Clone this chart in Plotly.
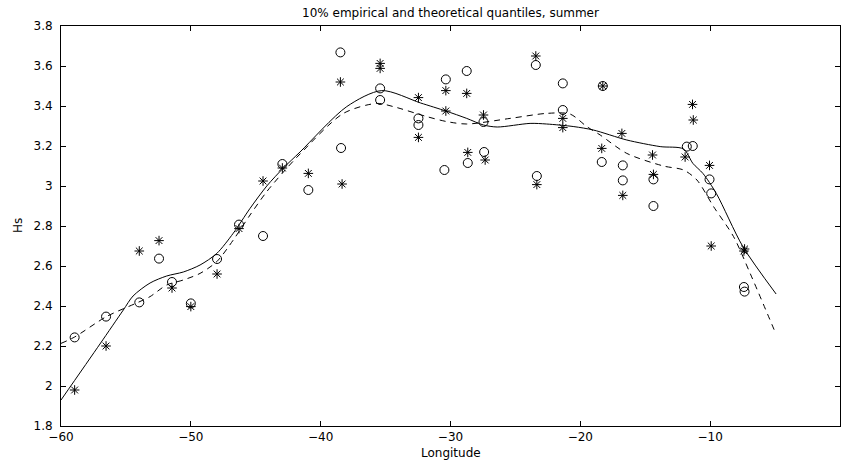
import plotly.graph_objects as go

# Circle markers
circle_x = [-58.95, -56.53, -53.97, -52.45, -51.45, -50.0, -47.98, -46.29, -44.44, -42.95,
            -40.95, -38.43, -38.48, -35.42, -35.42, -32.47, -32.47, -30.36, -30.47, -28.75,
            -28.67, -27.46, -27.41, -23.43, -23.35, -21.35, -21.35, -18.27, -18.35, -16.73,
            -16.73, -14.37, -14.37, -11.8, -11.34, -10.05, -9.92, -7.4, -7.35]
circle_y = [2.243, 2.347, 2.418, 2.637, 2.52, 2.413, 2.635, 2.807, 2.75, 3.11,
            2.98, 3.19, 3.668, 3.488, 3.43, 3.338, 3.305, 3.533, 3.08, 3.575,
            3.115, 3.32, 3.17, 3.605, 3.05, 3.513, 3.38, 3.5, 3.12, 3.103,
            3.028, 3.033, 2.90, 3.197, 3.20, 3.033, 2.963, 2.495, 2.472]

# Star markers
star_x = [-58.95, -56.53, -53.97, -52.45, -51.45, -50.0, -47.98, -46.29, -44.44, -42.95,
          -40.95, -38.48, -38.35, -35.42, -35.42, -32.47, -32.47, -30.36, -30.36, -28.75,
          -28.67, -27.46, -27.33, -23.43, -23.35, -21.35, -21.35, -18.27, -18.35, -16.8,
          -16.73, -14.44, -14.37, -11.93, -11.36, -11.3, -10.05, -9.92, -7.35, -7.4]
star_y = [1.98, 2.20, 2.675, 2.727, 2.49, 2.397, 2.56, 2.787, 3.025, 3.09,
          3.063, 3.52, 3.01, 3.613, 3.588, 3.442, 3.243, 3.477, 3.375, 3.463,
          3.168, 3.355, 3.13, 3.65, 3.007, 3.338, 3.292, 3.5, 3.188, 3.263,
          2.953, 3.155, 3.058, 3.145, 3.408, 3.33, 3.103, 2.70, 2.685, 2.675]

# Solid curve
solid_x = [-60, -57, -55.2, -54.45, -53.14, -51.86, -50.58, -49.29, -48.0, -46.73, -45.44,
           -44.15, -42.87, -41.59, -37.99, -35.3, -32.3, -30.36, -28.75, -27.46, -26.4,
           -23.87, -22.6, -20.5, -19.0, -16.42, -13.85, -12.05, -11.33, -10.56, -9.53,
           -7.48, -4.92]
solid_y = [1.93, 2.21, 2.38, 2.45, 2.515, 2.55, 2.57, 2.605, 2.663, 2.764, 2.888,
           3.0, 3.09, 3.17, 3.397, 3.477, 3.415, 3.375, 3.338, 3.305, 3.295,
           3.313, 3.31, 3.297, 3.28, 3.23, 3.197, 3.185, 3.113, 3.063, 2.963,
           2.697, 2.46]

# Dashed curve
dash_x = [-60, -58.95, -56.5, -54.0, -53.14, -51.86, -50.58, -49.29, -48.0, -46.73, -45.44,
          -44.15, -42.87, -41.59, -38.25, -35.68, -34.4, -31.83, -30.28, -28.75, -25.41,
          -22.6, -20.8, -19.5, -18.47, -16.42, -13.6, -12.05, -11.02, -9.74, -8.2,
          -6.92, -4.92]
dash_y = [2.213, 2.245, 2.347, 2.42, 2.447, 2.505, 2.53, 2.563, 2.622, 2.73, 2.855,
          2.972, 3.07, 3.16, 3.363, 3.413, 3.397, 3.347, 3.322, 3.31, 3.338,
          3.363, 3.36, 3.297, 3.255, 3.163, 3.10, 3.08, 3.03, 2.897, 2.747,
          2.563, 2.258]

x_ticks = [-60, -50, -40, -30, -20, -10, 0]
x_tick_labels = ["\u221260", "\u221250", "\u221240", "\u221230", "\u221220", "\u221210", "0"]
y_ticks = [1.8, 2.0, 2.2, 2.4, 2.6, 2.8, 3.0, 3.2, 3.4, 3.6, 3.8]
y_tick_labels = ["1.8", "2", "2.2", "2.4", "2.6", "2.8", "3", "3.2", "3.4", "3.6", "3.8"]

FONT = "DejaVu Sans, Liberation Sans, Arial, sans-serif"

fig = go.Figure()
fig.add_trace(go.Scatter(x=solid_x, y=solid_y, mode="lines",
                         line=dict(color="black", width=1, shape="spline", smoothing=0.8),
                         showlegend=False))
fig.add_trace(go.Scatter(x=dash_x, y=dash_y, mode="lines",
                         line=dict(color="black", width=1, dash="6px,5px", shape="spline", smoothing=0.8),
                         showlegend=False))
fig.add_trace(go.Scatter(x=circle_x, y=circle_y, mode="markers",
                         marker=dict(symbol="circle-open", size=9, color="black",
                                     line=dict(width=1, color="black")),
                         showlegend=False))
fig.add_trace(go.Scatter(x=star_x, y=star_y, mode="markers",
                         marker=dict(symbol="asterisk-open", size=8, color="black",
                                     line=dict(width=1, color="black")),
                         showlegend=False))

axis_common = dict(showline=True, linecolor="black", linewidth=1, mirror="ticks",
                   ticks="inside", ticklen=5, tickcolor="black", showgrid=False,
                   zeroline=False, automargin=False,
                   tickfont=dict(family=FONT, size=12, color="black"))

fig.update_xaxes(range=[-60, 0], tickvals=x_ticks, ticktext=x_tick_labels,
                 ticklabelstandoff=0, **axis_common)
fig.update_yaxes(range=[1.8, 3.8], tickvals=y_ticks, ticktext=y_tick_labels,
                 ticklabelstandoff=5, **axis_common)

fig.update_layout(
    width=841, height=461,
    margin=dict(l=61, r=1, t=26, b=35),
    paper_bgcolor="white", plot_bgcolor="white",
    title=dict(text="10% empirical and theoretical quantiles, summer",
               x=(61 + 840) / 2 / 841, xanchor="center",
               y=1 - 13 / 461, yanchor="middle", yref="container",
               font=dict(family=FONT, size=12, color="black")),
    annotations=[
        dict(text="Longitude", xref="paper", yref="paper", x=0.5, y=-27 / 400,
             xanchor="center", yanchor="middle", showarrow=False,
             font=dict(family=FONT, size=12, color="black")),
        dict(text="Hs", xref="paper", yref="paper", x=-43 / 779, y=0.5,
             xanchor="center", yanchor="middle", textangle=-90, showarrow=False,
             font=dict(family=FONT, size=12, color="black")),
    ],
)

fig.write_html("out.html")
